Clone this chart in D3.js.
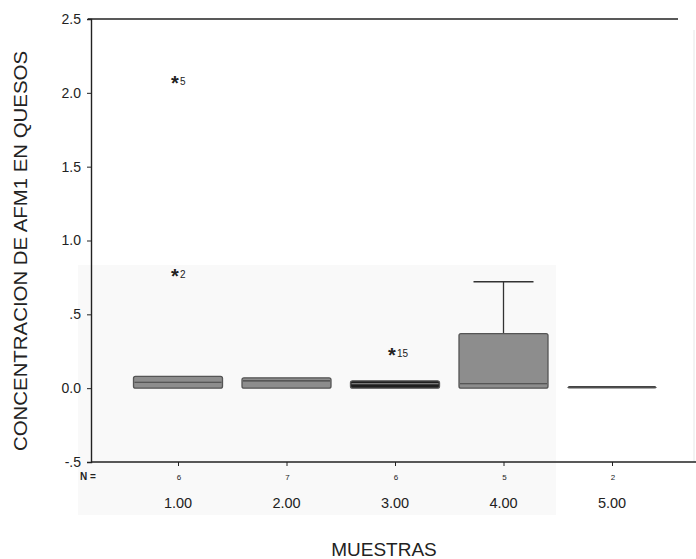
<!DOCTYPE html>
<html lang="es">
<head>
<meta charset="UTF-8">
<title>Boxplot AFM1</title>
<script src="https://cdn.jsdelivr.net/npm/d3@7"></script>
<style>
  body { margin: 0; background: #fff; }
  text { font-family: "Liberation Sans", Arial, sans-serif; fill: #222; }
</style>
</head>
<body>
<div id="chart"></div>
<script>
// data
const categories = ['1.00', '2.00', '3.00', '4.00', '5.00']
const nCounts = ['6', '7', '6', '5', '2']
const q1 = [0.0, 0.0, 0.0, 0.0, 0.01]
const medians = [0.04, 0.05, 0.03, 0.03, 0.01]
const q3 = [0.08, 0.07, 0.05, 0.37, 0.01]
const whiskerLow = [0.0, 0.0, 0.0, 0.0, 0.01]
const whiskerHigh = [0.08, 0.07, 0.05, 0.72, 0.01]
const boxFills = ['#8d8d8d', '#8d8d8d', '#1e1e1e', '#8d8d8d', '#8d8d8d']

const outlierCat = ['1.00', '1.00', '3.00']
const outlierValue = [2.08, 0.77, 0.24]
const outlierLabel = ['5', '2', '15']

const yTicks = [-0.5, 0, 0.5, 1.0, 1.5, 2.0, 2.5]
const yTickLabels = ['-.5', '0.0', '.5', '1.0', '1.5', '2.0', '2.5']

const width = 696
const height = 559
const axisLeft = 91
const axisBottom = 462
const plotTop = 19
const plotRight = 696
const boxWidth = 89
const capWidth = 60

const svg = d3.select('#chart').append('svg')
    .attr('width', width)
    .attr('height', height)

const x = d3.scalePoint().domain(categories).range([178, 612])
const y = d3.scaleLinear().domain([-0.5, 2.5]).range([axisBottom, plotTop])

// faint scan shading
svg.append('rect')
    .attr('x', 78).attr('y', 265)
    .attr('width', 478).attr('height', 250)
    .attr('fill', '#f9f9f9')

// frame lines
svg.append('line')
    .attr('x1', 88).attr('x2', 678)
    .attr('y1', plotTop).attr('y2', plotTop)
    .attr('stroke', '#222').attr('stroke-width', 1.3)
svg.append('line')
    .attr('x1', 694).attr('x2', 694)
    .attr('y1', 30).attr('y2', axisBottom)
    .attr('stroke', '#e6e6e6').attr('stroke-width', 1)

// y axis
const yAxis = d3.axisLeft(y)
    .tickValues(yTicks)
    .tickFormat((d, i) => yTickLabels[i])
    .tickSize(4)
    .tickPadding(6)
const gy = svg.append('g')
    .attr('transform', `translate(${axisLeft},0)`)
    .call(yAxis)
gy.select('.domain').attr('stroke', '#222').attr('stroke-width', 1.4)
gy.selectAll('.tick line').attr('stroke', '#222')
gy.selectAll('.tick text')
    .attr('font-size', 14)
    .attr('fill', '#333')
    .style('font-family', '"Liberation Sans", Arial, sans-serif')

// x axis
const xAxis = d3.axisBottom(x).tickSize(4).tickFormat('')
const gx = svg.append('g')
    .attr('transform', `translate(0,${axisBottom})`)
    .call(xAxis)
gx.select('.domain').remove()
gx.selectAll('.tick line').attr('stroke', '#222')
svg.append('line')
    .attr('x1', axisLeft).attr('x2', plotRight)
    .attr('y1', axisBottom).attr('y2', axisBottom)
    .attr('stroke', '#222').attr('stroke-width', 1.4)

// category labels
svg.append('g').selectAll('text')
    .data(categories)
    .enter().append('text')
    .attr('x', d => x(d))
    .attr('y', 508)
    .attr('text-anchor', 'middle')
    .attr('font-size', 14.5)
    .attr('fill', '#333')
    .text(d => d)

// N row
svg.append('text')
    .attr('x', 80).attr('y', 480)
    .attr('font-size', 10)
    .attr('font-weight', 'bold')
    .text('N =')
svg.append('g').selectAll('text')
    .data(categories)
    .enter().append('text')
    .attr('x', d => x(d) + 1)
    .attr('y', 480)
    .attr('text-anchor', 'middle')
    .attr('font-size', 8)
    .attr('fill', '#666')
    .text((d, i) => nCounts[i])

// whiskers
const wg = svg.append('g')
categories.forEach((c, i) => {
    if (whiskerHigh[i] > q3[i]) {
        wg.append('line')
            .attr('x1', x(c)).attr('x2', x(c))
            .attr('y1', y(q3[i])).attr('y2', y(whiskerHigh[i]))
            .attr('stroke', '#333').attr('stroke-width', 1.3)
        wg.append('line')
            .attr('x1', x(c) - capWidth / 2).attr('x2', x(c) + capWidth / 2)
            .attr('y1', y(whiskerHigh[i])).attr('y2', y(whiskerHigh[i]))
            .attr('stroke', '#333').attr('stroke-width', 1.5)
    }
    if (whiskerLow[i] < q1[i]) {
        wg.append('line')
            .attr('x1', x(c)).attr('x2', x(c))
            .attr('y1', y(q1[i])).attr('y2', y(whiskerLow[i]))
            .attr('stroke', '#333')
    }
})

// boxes
svg.append('g').selectAll('rect')
    .data(categories)
    .enter().append('rect')
    .attr('x', d => x(d) - boxWidth / 2)
    .attr('y', (d, i) => y(q3[i]))
    .attr('width', boxWidth)
    .attr('height', (d, i) => Math.max(1.5, y(q1[i]) - y(q3[i])))
    .attr('rx', 2)
    .attr('fill', (d, i) => q3[i] - q1[i] < 0.005 ? '#555' : boxFills[i])
    .attr('stroke', '#555')
    .attr('stroke-width', (d, i) => q3[i] - q1[i] < 0.005 ? 0.5 : 1.3)

// medians
svg.append('g').selectAll('line')
    .data(categories)
    .enter().append('line')
    .attr('x1', d => x(d) - boxWidth / 2 + 1)
    .attr('x2', d => x(d) + boxWidth / 2 - 1)
    .attr('y1', (d, i) => y(medians[i]))
    .attr('y2', (d, i) => y(medians[i]))
    .attr('stroke', (d, i) => i === 2 ? '#9a9a9a' : '#444')
    .attr('stroke-width', 1.2)

// outliers (extreme values, SPSS style asterisks)
const og = svg.append('g')
outlierCat.forEach((c, i) => {
    og.append('text')
        .attr('x', x(c) - 3)
        .attr('y', y(outlierValue[i]) + 9)
        .attr('text-anchor', 'middle')
        .attr('font-size', 20)
        .attr('font-weight', 'bold')
        .attr('fill', '#111')
        .text('*')
    og.append('text')
        .attr('x', x(c) + 2)
        .attr('y', y(outlierValue[i]) + 4)
        .attr('font-size', 10)
        .attr('fill', '#333')
        .text(outlierLabel[i])
})

// axis titles
svg.append('text')
    .attr('transform', 'translate(27,251) rotate(-90)')
    .attr('text-anchor', 'middle')
    .attr('font-size', 18)
    .attr('textLength', 400)
    .attr('lengthAdjust', 'spacingAndGlyphs')
    .attr('fill', '#333')
    .text('CONCENTRACION DE AFM1 EN QUESOS')

svg.append('text')
    .attr('x', 384).attr('y', 556)
    .attr('text-anchor', 'middle')
    .attr('font-size', 19)
    .attr('fill', '#333')
    .text('MUESTRAS')
</script>
</body>
</html>
